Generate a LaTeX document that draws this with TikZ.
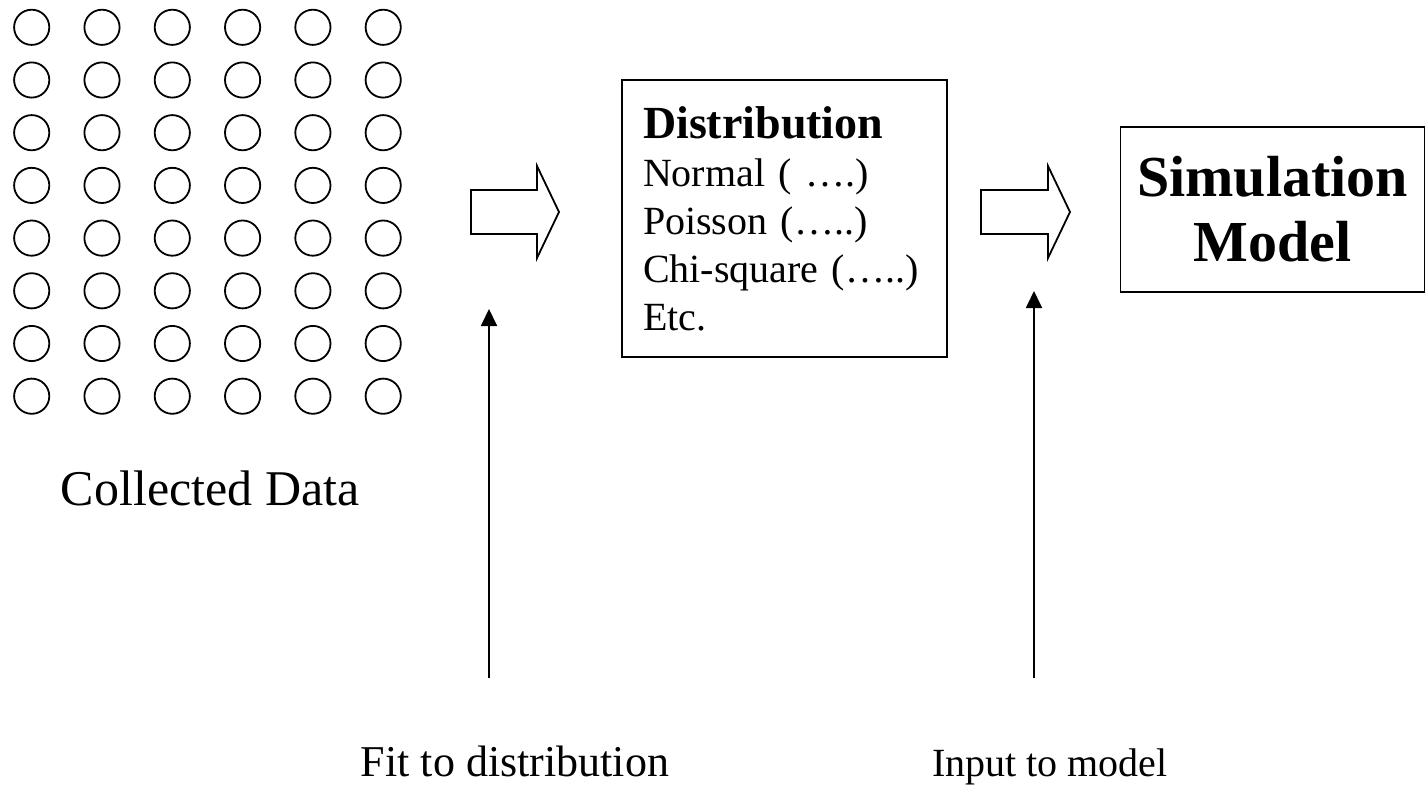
\documentclass[tikz,border=0pt]{standalone}
\usepackage{fontspec}
\setmainfont{Liberation Serif}
\usetikzlibrary{arrows.meta}

\begin{document}
\begin{tikzpicture}[x=0.5pt,y=-0.5pt,line width=0.9pt,
    boite/.style={draw,rectangle,inner sep=0pt},
    fleche/.style={-{Triangle[length=8.5pt,width=8pt]}}]
  \useasboundingbox (0,0) rectangle (1426,787);
  \def\dx{70.3}
  \def\dy{52.7}

  % Donnees
  \foreach \i in {0,...,5}
    \foreach \j in {0,...,7}
      \draw ({31.7+\dx*\i},{27.3+\dy*\j}) circle (17.6);
  \node[anchor=base east,font=\fontsize{25}{30}\selectfont] (donnees) at (367,505) {Collected Data};

  % Fleches creuses
  \draw (471,190) -- ++(66,0) -- ++(0,-24) -- ++(22,46) -- ++(-22,46) -- ++(0,-24) -- ++(-66,0) -- cycle;
  \draw (981,190) -- ++(67,0) -- ++(0,-24) -- ++(22,46) -- ++(-22,46) -- ++(0,-24) -- ++(-67,0) -- cycle;

  % Boites
  \node[boite,minimum width=162.5pt,minimum height=138.5pt,text width=141.5pt,
        inner xsep=10.5pt,align=left,font=\fontsize{20}{24}\selectfont] (distrib) at (784.5,218.5)
    {{\bfseries\fontsize{23}{24}\selectfont Distribution}\\
     Normal ( ….)\\
     Poisson (…..)\\
     Chi-square (…..)\\
     Etc.};
  \node[boite,minimum width=152pt,minimum height=82.5pt,align=center,
        font=\bfseries\fontsize{29}{32.5}\selectfont] (modele) at (1272.5,209.5) {Simulation\\Model};

  % Etapes
  \coordinate (ajustbas) at (489,678);
  \coordinate (ajusthaut) at (489,309);
  \coordinate (entreebas) at (1034,678);
  \coordinate (entreehaut) at (1034,291);
  \draw[fleche] (ajustbas) -- (ajusthaut);
  \draw[fleche] (entreebas) -- (entreehaut);
  \node[anchor=base,font=\fontsize{22}{26}\selectfont] (ajust) at (515,776) {Fit to distribution};
  \node[anchor=base,font=\fontsize{20}{24}\selectfont] (entree) at (1050,776) {Input to model};
\end{tikzpicture}
\end{document}
